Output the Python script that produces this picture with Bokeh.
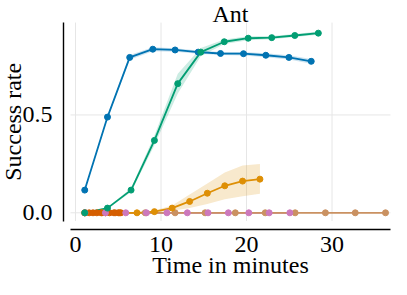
import math
from bokeh.plotting import figure
from bokeh.models import Range1d, FixedTicker, Label, PrintfTickFormatter
from bokeh.embed import file_html
from bokeh.resources import INLINE

# ---------------- data ----------------
TITLE = "Ant"
X_LABEL = "Time in minutes"
Y_LABEL = "Success rate"
X_TICKS = [0, 10, 20, 30]
Y_TICKS = [0.0, 0.5]
X_BOUNDS = (-0.585, 36.84)
Y_BOUNDS = (-0.042, 0.972)

blue_x = [1.08, 3.74, 6.34, 9.04, 11.65, 14.35, 16.96, 19.65, 22.26, 24.96, 27.57]
blue_y = [0.116, 0.489, 0.794, 0.836, 0.832, 0.821, 0.814, 0.813, 0.805, 0.794, 0.774]
blue_lo = [0.110, 0.483, 0.782, 0.826, 0.823, 0.813, 0.806, 0.804, 0.795, 0.783, 0.762]
blue_hi = [0.122, 0.495, 0.806, 0.846, 0.841, 0.829, 0.822, 0.822, 0.815, 0.805, 0.786]

green_x = [1.08, 3.74, 6.5, 9.23, 11.96, 14.65, 17.4, 20.2, 22.95, 25.65, 28.4]
green_y = [0.0, 0.024, 0.116, 0.37, 0.66, 0.821, 0.874, 0.892, 0.895, 0.906, 0.918]
green_lo = [0.0, 0.019, 0.106, 0.345, 0.61, 0.80, 0.862, 0.882, 0.887, 0.898, 0.910]
green_hi = [0.003, 0.029, 0.126, 0.395, 0.71, 0.842, 0.886, 0.902, 0.903, 0.914, 0.926]

orange_x = [1.06, 3.1, 5.15, 7.19, 9.23, 11.3, 13.35, 15.42, 17.46, 19.54, 21.57]
orange_y = [0.0, 0.0, 0.0, 0.0, 0.006, 0.024, 0.058, 0.100, 0.138, 0.162, 0.172]
orange_lo = [0.0, 0.0, 0.0, 0.0, 0.0, 0.011, 0.024, 0.045, 0.069, 0.085, 0.097]
orange_hi = [0.0, 0.0, 0.0, 0.0, 0.012, 0.037, 0.093, 0.150, 0.206, 0.242, 0.249]

red_x = [1.1, 1.6, 2.05, 2.5, 3.0, 3.5, 4.0, 4.5, 5.0, 5.3]
red_y = [0.0, 0.0, 0.0, 0.0, 0.0, 0.0, 0.0, 0.0, 0.0, 0.0]

pink_x = [1.1, 3.5, 5.88, 8.3, 10.69, 13.08, 15.5, 17.88, 20.27, 22.65, 25.07]
pink_y = [0.0, 0.0, 0.0, 0.0, 0.0, 0.0, 0.0, 0.0, 0.0, 0.0, 0.0]

tan_x = [1.15, 4.65, 8.15, 11.65, 15.16, 18.69, 22.19, 25.69, 29.23, 32.72, 36.26]
tan_y = [0.0, 0.0, 0.0, 0.0, 0.0, 0.0, 0.0, 0.0, 0.0, 0.0, 0.0]

# ---------------- layout / style ----------------
FONT = "Liberation Serif"
BLUE, ORANGE, GREEN = "#0173b2", "#de8f05", "#029e73"
RED, PINK, TAN = "#d55e00", "#cc78bc", "#ca9161"
GRID = "#e6e6e6"

W, H = 391, 279
XR = (-8.772, 36.959)
YR = (-0.3408, 1.0848)
PPX = W / (XR[1] - XR[0])
PPY = H / (YR[1] - YR[0])
X_AXIS_AT = -0.0855   # y value where the (offset) x axis line sits
Y_AXIS_AT = -1.404    # x value where the (offset) y axis line sits

p = figure(width=W, height=H, output_backend="svg", toolbar_location=None,
           x_range=Range1d(*XR), y_range=Range1d(*YR),
           min_border_left=0, min_border_right=0, min_border_top=0, min_border_bottom=0)
p.outline_line_color = None
p.background_fill_color = "white"
p.border_fill_color = "white"
p.xgrid.visible = False
p.ygrid.visible = False

# grid lines limited to the axis extents
p.segment(x0=X_TICKS, y0=[Y_BOUNDS[0]] * len(X_TICKS), x1=X_TICKS, y1=[Y_BOUNDS[1]] * len(X_TICKS),
          line_color=GRID, line_width=1)
p.segment(x0=[X_BOUNDS[0]] * len(Y_TICKS), y0=Y_TICKS, x1=[X_BOUNDS[1]] * len(Y_TICKS), y1=Y_TICKS,
          line_color=GRID, line_width=1)

# bands
for xs, lo, hi, c in [(blue_x, blue_lo, blue_hi, BLUE), (green_x, green_lo, green_hi, GREEN),
                      (orange_x, orange_lo, orange_hi, ORANGE)]:
    p.varea(x=xs, y1=lo, y2=hi, fill_color=c, fill_alpha=0.2)

LW, MS = 1.8, 6
series = {
    "pink": (pink_x, pink_y, PINK), "tan": (tan_x, tan_y, TAN), "red": (red_x, red_y, RED),
    "orange": (orange_x, orange_y, ORANGE), "blue": (blue_x, blue_y, BLUE),
    "green": (green_x, green_y, GREEN),
}
for k in ["pink", "tan", "red", "orange", "blue", "green"]:
    xs, ys, c = series[k]
    p.line(xs, ys, line_color=c, line_width=LW)
for k in ["tan", "orange", "red", "pink", "blue", "green"]:
    xs, ys, c = series[k]
    p.scatter(xs, ys, size=MS, fill_color=c, line_color=c)

# axes (offset spines)
for ax in (p.xaxis[0], p.yaxis[0]):
    ax.axis_line_color = "black"
    ax.axis_line_width = 1.4
    ax.major_tick_line_color = None
    ax.minor_tick_line_color = None
    ax.major_label_text_font = FONT
    ax.major_label_text_font_size = "24px"
    ax.major_label_text_color = "black"

p.xaxis.fixed_location = X_AXIS_AT
p.yaxis.fixed_location = Y_AXIS_AT
p.xaxis.major_label_standoff = 1
p.yaxis.major_label_standoff = 5
p.xaxis.ticker = FixedTicker(ticks=X_TICKS)
p.yaxis.ticker = FixedTicker(ticks=Y_TICKS)
p.xaxis.formatter = PrintfTickFormatter(format="%d")
p.yaxis.formatter = PrintfTickFormatter(format="%.1f")
p.xaxis.bounds = X_BOUNDS
p.yaxis.bounds = Y_BOUNDS

LABEL_SIZE = "24px"
xmid = (X_BOUNDS[0] + X_BOUNDS[1]) / 2
ymid = (Y_BOUNDS[0] + Y_BOUNDS[1]) / 2

p.add_layout(Label(x=xmid, y=YR[1] - 13 / PPY, text=TITLE, text_font=FONT,
                   text_font_size=LABEL_SIZE, text_align="center",
                   text_baseline="alphabetic", text_color="black"))
p.add_layout(Label(x=xmid, y=YR[0] + 15 / PPY, text=X_LABEL, text_font=FONT,
                   text_font_size=LABEL_SIZE, text_align="center",
                   text_baseline="alphabetic", text_color="black"))
p.add_layout(Label(x=XR[0] + 12.5 / PPX, y=ymid, text=Y_LABEL, text_font=FONT,
                   text_font_size=LABEL_SIZE, text_align="center", angle=math.pi / 2,
                   text_baseline="alphabetic", text_color="black"))

open("out.html", "w").write(file_html(p, INLINE))
